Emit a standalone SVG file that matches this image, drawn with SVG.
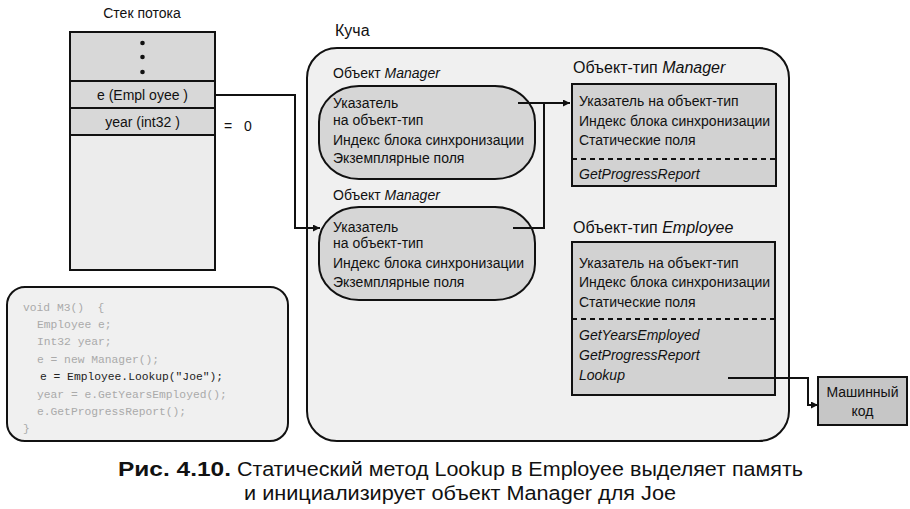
<svg xmlns="http://www.w3.org/2000/svg" width="910" height="509" viewBox="0 0 910 509">
<defs>
<marker id="arr" viewBox="0 0 10 10" refX="10" refY="5" markerWidth="7" markerHeight="7" markerUnits="userSpaceOnUse" orient="auto">
<path d="M0,0 L10,5 L0,10 z" fill="#111"/>
</marker>
<style>
text{font-family:"Liberation Sans",Arial,sans-serif;fill:#111;}
.t{font-size:14px;}
.h{font-size:16px;}
.i{font-style:italic;}
.code{font-family:"Liberation Mono","DejaVu Sans Mono",monospace;font-size:11.3px;fill:#aaa;}
.codeb{fill:#222;}
.cap{font-size:20.5px;}
.box{stroke:#111;stroke-width:2;}
.line{fill:none;stroke:#111;stroke-width:2;}
.dash{stroke:#111;stroke-width:2;stroke-dasharray:5,4;}
</style>
</defs>
<rect width="910" height="509" fill="#fff"/>

<g id="stack">
<text x="142" y="18" class="t" text-anchor="middle">Стек потока</text>
<rect x="70" y="32" width="145" height="238" fill="#ececec" class="box"/>
<rect x="70" y="32" width="145" height="49" fill="#d8d8d8" class="box"/>
<circle cx="142.5" cy="43" r="2.3" fill="#111"/>
<circle cx="142.5" cy="57" r="2.3" fill="#111"/>
<circle cx="142.5" cy="72" r="2.3" fill="#111"/>
<rect x="70" y="81" width="145" height="27" fill="#d8d8d8" class="box"/>
<text x="142.5" y="100" class="t" text-anchor="middle">e (Empl oyee )</text>
<rect x="70" y="108" width="145" height="27" fill="#d8d8d8" class="box"/>
<text x="142.5" y="127" class="t" text-anchor="middle">year (int32 )</text>
<text x="224" y="131" class="t">=</text>
<text x="244" y="131" class="t">0</text>
</g>

<g id="code">
<rect x="7" y="287" width="281" height="154" rx="18" ry="18" fill="#f0f0f0" class="box"/>
<text x="23" y="311" class="code" xml:space="preserve">void M3()  {</text>
<text x="37" y="328" class="code">Employee e;</text>
<text x="37" y="345" class="code">Int32 year;</text>
<text x="37" y="363" class="code">e = new Manager();</text>
<text x="40" y="380" class="code codeb">e = Employee.Lookup("Joe");</text>
<text x="37" y="398" class="code">year = e.GetYearsEmployed();</text>
<text x="37" y="415" class="code">e.GetProgressReport();</text>
<text x="23" y="432" class="code">}</text>
</g>

<g id="heap">
<text x="335" y="36" class="h">Куча</text>
<rect x="307" y="48" width="482" height="393" rx="30" ry="30" fill="#f0f0f0" class="box"/>
</g>

<g id="manager1">
<text x="333" y="78" class="t">Объект <tspan class="i">Manager</tspan></text>
<rect x="319" y="86" width="216" height="93" rx="40" ry="36" fill="#d6d6d6" class="box"/>
<text x="333" y="108" class="t">Указатель</text>
<text x="333" y="125" class="t">на объект-тип</text>
<text x="333" y="145" class="t">Индекс блока синхронизации</text>
<text x="333" y="163" class="t">Экземплярные поля</text>
</g>

<g id="manager2">
<text x="333" y="200" class="t">Объект <tspan class="i">Manager</tspan></text>
<rect x="319" y="207" width="216" height="93" rx="40" ry="36" fill="#d6d6d6" class="box"/>
<text x="333" y="232" class="t">Указатель</text>
<text x="333" y="248" class="t">на объект-тип</text>
<text x="333" y="268" class="t">Индекс блока синхронизации</text>
<text x="333" y="287" class="t">Экземплярные поля</text>
</g>

<g id="managerType">
<text x="573" y="73" class="h">Объект-тип <tspan class="i">Manager</tspan></text>
<rect x="572" y="84" width="204" height="102" fill="#d2d2d2" class="box"/>
<text x="579" y="106" class="t">Указатель на объект-тип</text>
<text x="579" y="126" class="t">Индекс блока синхронизации</text>
<text x="579" y="145" class="t">Статические поля</text>
<line x1="572" y1="159" x2="776" y2="159" class="dash"/>
<text x="579" y="179" class="t i">GetProgressReport</text>
</g>

<g id="employeeType">
<text x="573" y="233" class="h">Объект-тип <tspan class="i">Employee</tspan></text>
<rect x="572" y="242" width="203" height="153" fill="#d2d2d2" class="box"/>
<text x="579" y="268" class="t">Указатель на объект-тип</text>
<text x="579" y="287" class="t">Индекс блока синхронизации</text>
<text x="579" y="307" class="t">Статические поля</text>
<line x1="572" y1="319" x2="775" y2="319" class="dash"/>
<text x="579" y="340" class="t i">GetYearsEmployed</text>
<text x="579" y="360" class="t i">GetProgressReport</text>
<text x="579" y="380" class="t i">Lookup</text>
</g>

<g id="machineCode">
<rect x="818" y="377" width="89" height="48" fill="#c6c6c6" class="box"/>
<text x="862.5" y="397" class="t" text-anchor="middle">Машинный</text>
<text x="862.5" y="416" class="t" text-anchor="middle">код</text>
</g>

<g id="connectors">
<path d="M215,95 H295 V228 H320" class="line" marker-end="url(#arr)"/>
<path d="M518,103 H570" class="line" marker-end="url(#arr)"/>
<path d="M513,228 H544 V103" class="line"/>
<path d="M728,378 H808 V405 H818" class="line" marker-end="url(#arr)"/>
</g>

<g id="caption">
<text x="118" y="476" class="cap" font-weight="bold" textLength="113" lengthAdjust="spacingAndGlyphs">Рис. 4.10.</text>
<text x="237" y="476" class="cap" textLength="566" lengthAdjust="spacingAndGlyphs">Статический метод Lookup в Employee выделяет память</text>
<text x="244" y="500" class="cap" textLength="432" lengthAdjust="spacingAndGlyphs">и инициализирует объект Manager для Joe</text>
</g>
</svg>
